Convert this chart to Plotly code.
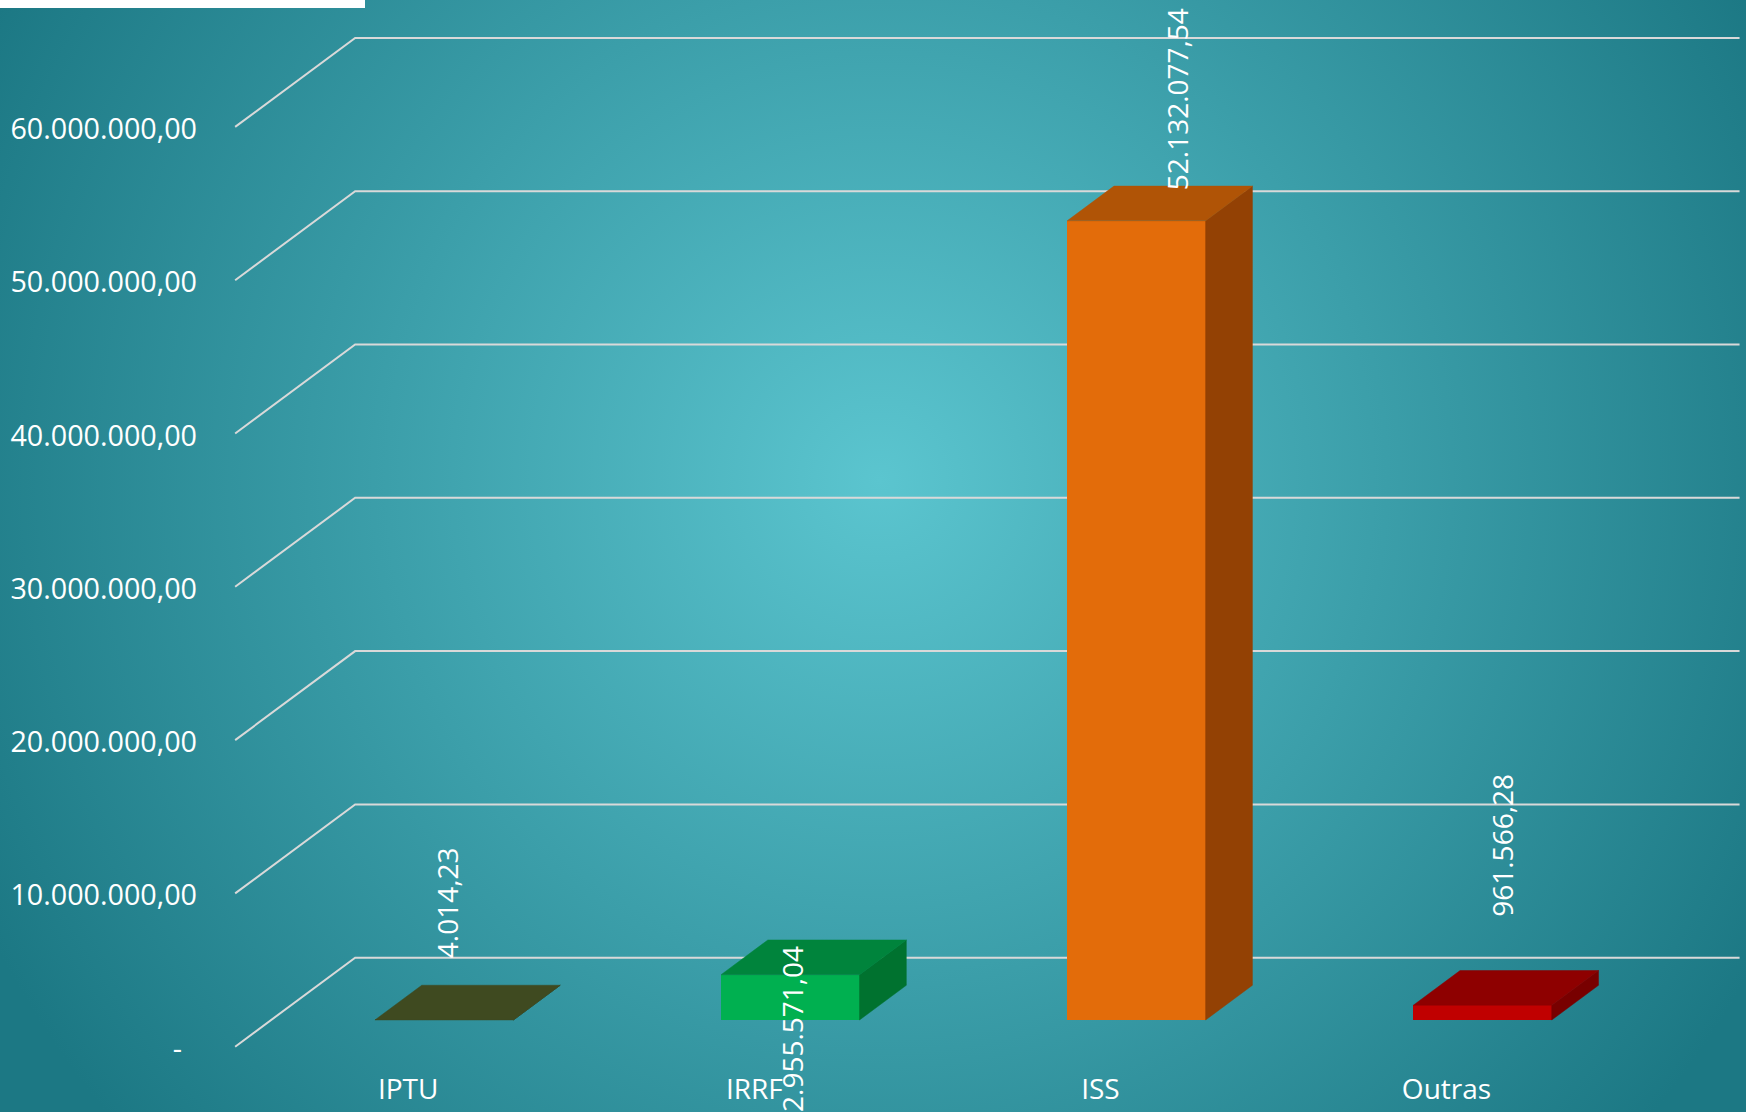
import base64
import plotly.graph_objects as go

# ---------------- data ----------------
categories = ["IPTU", "IRRF", "ISS", "Outras"]
values = [4014.23, 2955571.04, 52132077.54, 961566.28]
tick_values = [0, 10_000_000, 20_000_000, 30_000_000, 40_000_000, 50_000_000, 60_000_000]

# ---------------- styles ----------------
front_colors = ["#4A5A24", "#00B050", "#E36C0A", "#C00000"]
top_colors = ["#3F4A20", "#00843C", "#B05406", "#8E0000"]
side_colors = ["#343D1A", "#00722F", "#934104", "#780000"]
# data-label offsets (px right, px up) relative to the top-front centre of each bar
label_dx = [3, 1, 40, 20]
label_dy = [117, -54, 122, 160]

W, H = 1746, 1112
PX_PER_CAT = 346.1          # pixels per category step
PX_PER_UNIT = 15.33 / 1e6   # pixels per value unit
ORIGIN_X_PX = 444.2         # pixel x of category 0 at the bar front plane
ORIGIN_Y_PX = 1020.0        # pixel y of value 0 at the bar front plane
DEPTH_DX_PX = 120.0         # full floor depth projection
DEPTH_DY_PX = 89.0
BAR_D0, BAR_D1 = 0.30, 0.69  # bar depth extent (fraction of floor depth)
BAR_WIDTH = 0.4
FONT = "Open Sans"


def fmt_br(v):
    s = f"{v:,.2f}"
    return s.replace(",", "#").replace(".", ",").replace("#", ".")


def proj(u, v, d):
    """project (category u, value v, depth d) into the bar-plane data coordinates"""
    return (u + (d - BAR_D0) * DEPTH_DX_PX / PX_PER_CAT,
            v + (d - BAR_D0) * DEPTH_DY_PX / PX_PER_UNIT)


x_range = [-ORIGIN_X_PX / PX_PER_CAT, (W - ORIGIN_X_PX) / PX_PER_CAT]
y_range = [-(H - ORIGIN_Y_PX) / PX_PER_UNIT, ORIGIN_Y_PX / PX_PER_UNIT]
front_shift = BAR_D0 * DEPTH_DY_PX / PX_PER_UNIT
y2_range = [y_range[0] + front_shift, y_range[1] + front_shift]

fig = go.Figure()

# side and top faces
for i, v in enumerate(values):
    xl, xr = i - BAR_WIDTH / 2, i + BAR_WIDTH / 2
    side = [proj(xr, 0, BAR_D0), proj(xr, v, BAR_D0), proj(xr, v, BAR_D1), proj(xr, 0, BAR_D1)]
    top = [proj(xl, v, BAR_D0), proj(xr, v, BAR_D0), proj(xr, v, BAR_D1), proj(xl, v, BAR_D1)]
    for poly, col in ((side, side_colors[i]), (top, top_colors[i])):
        fig.add_trace(go.Scatter(
            x=[p[0] for p in poly] + [poly[0][0]],
            y=[p[1] for p in poly] + [poly[0][1]],
            mode="lines", fill="toself", fillcolor=col,
            line=dict(color=col, width=0.5),
            hoverinfo="skip", showlegend=False))

# front faces
fig.add_trace(go.Bar(
    x=list(range(len(categories))), y=values, width=BAR_WIDTH,
    marker=dict(color=front_colors, line=dict(width=0)),
    showlegend=False, hovertemplate="%{y}<extra></extra>"))

# invisible trace to carry the front-plane value axis
fig.add_trace(go.Scatter(x=[0], y=[0], yaxis="y2", mode="markers",
                         marker=dict(opacity=0), hoverinfo="skip", showlegend=False))

# gridlines (floor diagonal + back wall)
shapes = []
n_cat = len(categories)
for tv in tick_values:
    p0 = proj(-0.5, tv, 0.0)
    p1 = proj(-0.5, tv, 1.0)
    p2 = proj(n_cat - 0.5, tv, 1.0)
    shapes.append(dict(type="path", xref="x", yref="y", layer="below",
                       path=f"M {p0[0]},{p0[1]} L {p1[0]},{p1[1]} L {p2[0]},{p2[1]}",
                       line=dict(color="#D9D9D9", width=2)))
# white strip at top left
shapes.append(dict(type="rect", xref="paper", yref="paper", x0=0, x1=365 / W,
                   y0=1 - 8 / H, y1=1, fillcolor="white", line=dict(width=0), layer="above"))

# data labels
annotations = []
for i, v in enumerate(values):
    annotations.append(dict(x=i, y=v, xref="x", yref="y", text=fmt_br(v),
                            showarrow=False, textangle=-90, xanchor="center", yanchor="middle",
                            xshift=label_dx[i], yshift=label_dy[i],
                            font=dict(family=FONT, size=28, color="white")))

# background radial gradient
svg = f'''<svg xmlns="http://www.w3.org/2000/svg" width="{W}" height="{H}" viewBox="0 0 {W} {H}">
<defs><radialGradient id="g" gradientUnits="userSpaceOnUse" cx="880" cy="480" r="1000">
<stop offset="0" stop-color="#5BC5CF"/><stop offset="1" stop-color="#1C7884"/>
</radialGradient></defs><rect width="{W}" height="{H}" fill="url(#g)"/></svg>'''
bg_src = "data:image/svg+xml;base64," + base64.b64encode(svg.encode()).decode()

tick_text = [fmt_br(t) if t != 0 else "-\u00a0\u00a0" for t in tick_values]
front_cat_x = [proj(i, 0, 0.0)[0] for i in range(n_cat)]

fig.update_layout(
    width=W, height=H,
    margin=dict(l=0, r=0, t=0, b=0),
    paper_bgcolor="#2B8C98", plot_bgcolor="rgba(0,0,0,0)",
    font=dict(family=FONT, size=28, color="white"),
    images=[dict(source=bg_src, xref="paper", yref="paper", x=0, y=1, sizex=1, sizey=1,
                 xanchor="left", yanchor="top", sizing="stretch", layer="below")],
    xaxis=dict(range=x_range, domain=[0, 1], anchor="free", position=0.038,
               tickvals=front_cat_x, ticktext=categories, showgrid=False, zeroline=False,
               showline=False, ticks="", tickfont=dict(family=FONT, size=28, color="white"),
               fixedrange=True),
    yaxis=dict(range=y_range, domain=[0, 1], visible=False, fixedrange=True),
    yaxis2=dict(range=y2_range, overlaying="y", anchor="free", position=197 / W, side="left",
                tickvals=tick_values, ticktext=tick_text, showgrid=False, zeroline=False,
                showline=False, ticks="", tickfont=dict(family=FONT, size=28.7, color="white"),
                ticklabelshift=2, fixedrange=True),
    shapes=shapes, annotations=annotations,
    bargap=0, showlegend=False,
)

fig.write_html(
    "out.html",
    config={"displayModeBar": False},
    post_script="document.body.style.margin='0';document.body.style.overflow='hidden';",
)
